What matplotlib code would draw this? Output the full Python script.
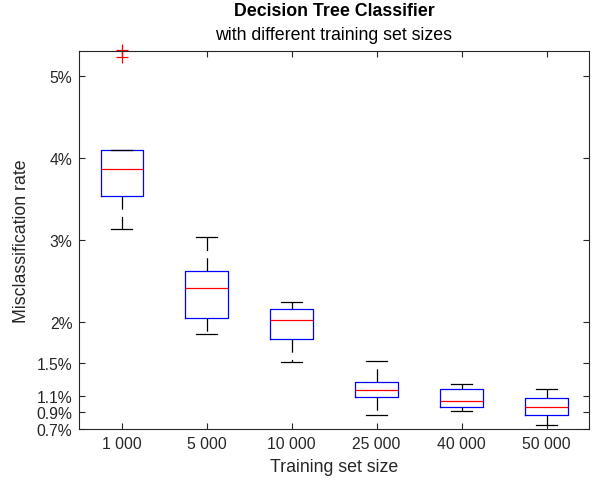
import numpy as np
import matplotlib.pyplot as plt

# Decision tree misclassification rate (%) per training set size
sizes = ["1 000", "5 000", "10 000", "25 000", "40 000", "50 000"]
q1 = [3.54, 2.05, 1.79, 1.09, 0.97, 0.87]
med = [3.87, 2.42, 2.02, 1.17, 1.04, 0.97]
q3 = [4.10, 2.62, 2.16, 1.27, 1.18, 1.08]
whislo = [3.14, 1.85, 1.51, 0.865, 0.91, 0.75]
whishi = [4.10, 3.04, 2.24, 1.52, 1.25, 1.18]
fliers = [[5.31, 5.23], [], [], [], [], []]
yticks = [0.7, 0.9, 1.1, 1.5, 2, 3, 4, 5]

plt.rcParams['font.family'] = ['Liberation Sans', 'DejaVu Sans']
plt.rcParams['lines.scale_dashes'] = False
axc = '#262626'

stats = []
for i in range(len(sizes)):
    stats.append(dict(label=sizes[i], q1=q1[i], med=med[i], q3=q3[i],
                      whislo=whislo[i], whishi=whishi[i], fliers=fliers[i]))

fig = plt.figure(figsize=(5.96, 4.85), dpi=100)
ax = fig.add_axes([79.3/596, 1 - 429.7/485, (589 - 79.3)/596, (429.7 - 52.3)/485])

art = ax.bxp(stats, positions=range(1, len(sizes) + 1), widths=0.5,
             boxprops=dict(color='blue', linewidth=0.9),
             medianprops=dict(color='red', linewidth=0.9),
             whiskerprops=dict(color='black', linewidth=0.9, linestyle=(0, (9.5, 5.2))),
             capprops=dict(color='black', linewidth=0.9),
             flierprops=dict(marker='+', markeredgecolor='red', markersize=8, markeredgewidth=0.9))
for f in art['fliers']:
    f.set_clip_on(False)

ax.set_xlim(0.5, len(sizes) + 0.5)
ax.set_ylim(0.7, 5.3)
ax.set_yticks(yticks)
ax.set_yticklabels([f"{v:g}%" for v in yticks])
ax.set_xticks(range(1, len(sizes) + 1))
ax.set_xticklabels(sizes)

for s in ax.spines.values():
    s.set_color(axc); s.set_linewidth(0.8)
ax.tick_params(direction='in', length=4, width=0.8, color=axc, labelcolor=axc,
               labelsize=11.3, top=True, right=True, pad=5)

ax.set_xlabel("Training set size", fontsize=12.8, color=axc, labelpad=5)
ax.set_ylabel("Misclassification rate", fontsize=12.8, color=axc, labelpad=5)

fig.text(334/596, 1 - 12/485, "Decision Tree Classifier", ha='center', va='center',
         fontsize=12.8, fontweight='bold', color='black')
fig.text(334/596, 1 - 36/485, "with different training set sizes", ha='center', va='center',
         fontsize=12.8, color='black')

plt.savefig("out.png", dpi=100)
plt.close()
